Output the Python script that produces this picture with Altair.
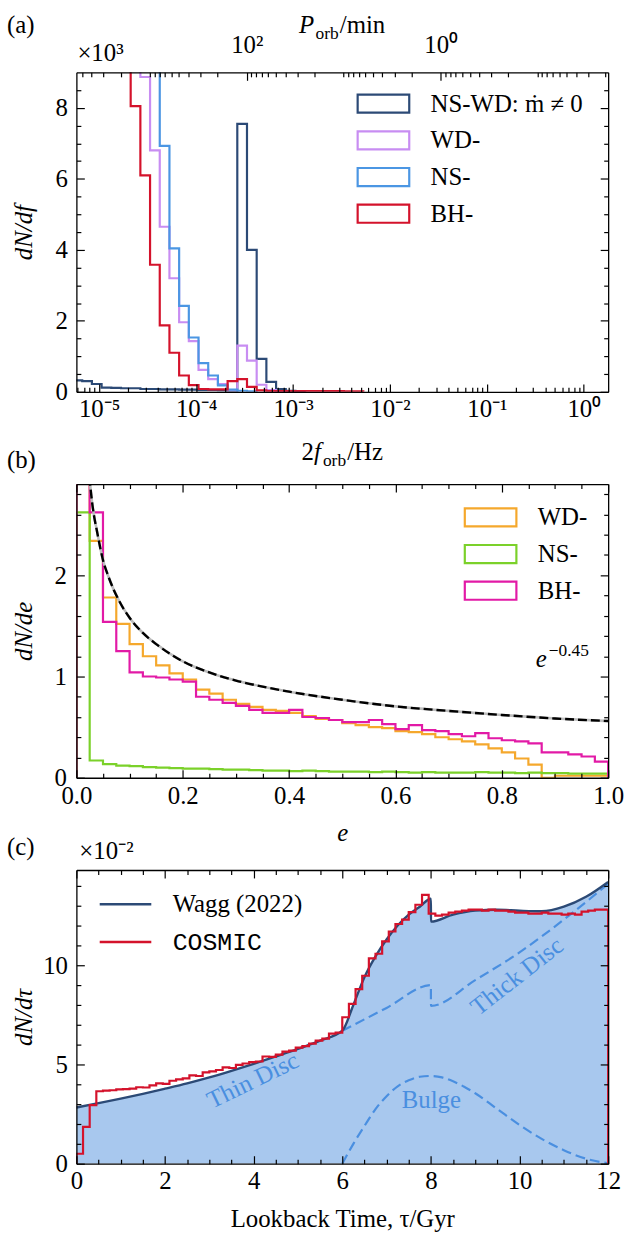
import altair as alt
import pandas as pd

SERIF = "Liberation Serif"
MONO = "Liberation Mono"
FS = 25
SUB = 17.5
W = 536
HA, HB, HC = 322, 296, 296
TMAJ, TMIN = 8, 4.5

# ---------------- Panel (a) data ----------------
A_NAMES = ["NS-WD: ṁ ≠ 0", "WD-", "NS-", "BH-"]
A_COLORS = ["#2c4a76", "#c88df2", "#4b96e3", "#d4122b"]
A_LOGF_RANGE = [-5.235, 0.251]
A_LOG_EDGE0 = -5.275
A_LOG_BIN = 0.1
A_YMAX = 9.0
a_nswd = [0.32, 0.30, 0.22, 0.12, 0.11, 0.10, 0.10, 0.08, 0.08, 0.07, 0.07, 0.06,
          0.06, 0.05, 0.05, 0.04, 0.03, 7.55, 4.00, 0.93, 0.28, 0.08, 0.03, 0.01]
a_wd = [10, 10, 10, 10, 10, 10, 10, 8.87, 6.80, 4.65, 3.20, 1.96, 1.43, 0.62, 0.36,
        0.22, 0.05, 1.30, 0.88, 0.20, 0.05, 0.02]
a_ns = [10, 10, 10, 10, 10, 10, 10, 10, 10, 6.93, 4.04, 2.42, 1.53, 0.81, 0.46, 0.18,
        0.06, 0.03, 0.01]
a_bh = [10, 10, 10, 10, 10, 10, 8.05, 6.10, 3.58, 1.87, 1.10, 0.46, 0.19, 0.08, 0.07,
        0.07, 0.30, 0.36, 0.14, 0.04, 0.02, 0.02, 0.02, 0.02, 0.02, 0.02, 0.02, 0.02,
        0.01, 0.01]

# ---------------- Panel (b) data ----------------
B_NAMES = ["WD-", "NS-", "BH-"]
B_COLORS = ["#f5a82c", "#7bd12a", "#e21aa6"]
B_BIN = 0.025
B_YMAX = 2.9
b_wd = [3.2, 2.34, 1.78, 1.52, 1.32, 1.20, 1.11, 1.03, 0.97, 0.87, 0.83, 0.77, 0.73,
        0.70, 0.67, 0.66, 0.64, 0.61, 0.58, 0.57, 0.54, 0.52, 0.50, 0.49, 0.46, 0.45,
        0.43, 0.40, 0.38, 0.36, 0.33, 0.29, 0.25, 0.19, 0.13, 0.0, 0.02, 0.02, 0.02, 0.02]
b_ns = [2.62, 0.17, 0.135, 0.12, 0.115, 0.105, 0.10, 0.095, 0.09, 0.09, 0.085, 0.08,
        0.08, 0.075, 0.07, 0.07, 0.065, 0.07, 0.065, 0.06, 0.06, 0.06, 0.055, 0.06,
        0.055, 0.05, 0.055, 0.05, 0.05, 0.05, 0.055, 0.05, 0.05, 0.045, 0.05, 0.045,
        0.045, 0.04, 0.04, 0.04]
b_bh = [3.2, 2.62, 1.54, 1.25, 1.04, 1.00, 0.99, 0.97, 0.95, 0.80, 0.77, 0.74, 0.71,
        0.67, 0.64, 0.64, 0.67, 0.60, 0.59, 0.57, 0.55, 0.55, 0.57, 0.53, 0.48, 0.52,
        0.47, 0.46, 0.43, 0.41, 0.44, 0.39, 0.37, 0.36, 0.34, 0.25, 0.25, 0.23, 0.21, 0.16]
b_curve_e = [0.022, 0.03, 0.04, 0.05, 0.06, 0.08, 0.10, 0.125, 0.15, 0.20, 0.25, 0.30,
             0.35, 0.40, 0.50, 0.60, 0.70, 0.80, 0.90, 1.00]
b_curve_v = [3.10, 2.70, 2.40, 2.15, 1.99, 1.75, 1.58, 1.43, 1.32, 1.15, 1.04, 0.96,
             0.90, 0.85, 0.77, 0.705, 0.66, 0.62, 0.585, 0.56]

# ---------------- Panel (c) data ----------------
C_NAMES = ["Wagg (2022)", "COSMIC"]
C_COLORS = ["#2c4a76", "#d4122b"]
C_FILL = "#a8c8ee"
C_DASH = "#4a8fe0"
C_BIN = 0.15
C_YMAX = 14.8
c_cosmic = [0.5, 1.85, 2.95, 3.65, 3.68, 3.70, 3.74, 3.76, 3.78, 3.85, 3.84, 3.95, 4.05,
            4.02, 4.18, 4.25, 4.30, 4.45, 4.42, 4.60, 4.65, 4.72, 4.85, 4.82, 4.98, 5.05,
            5.12, 5.15, 5.40, 5.38, 5.50, 5.65, 5.70, 5.85, 5.92, 6.05, 6.20, 6.30, 6.55,
            6.60, 7.38, 8.05, 8.80, 9.47, 10.35, 10.58, 11.20, 11.70, 12.08, 12.30, 12.68,
            13.05, 13.55, 12.60, 12.50, 12.55, 12.65, 12.70, 12.75, 12.80, 12.80, 12.75,
            12.80, 12.75, 12.75, 12.70, 12.65, 12.65, 12.60, 12.60, 12.65, 12.60, 12.60,
            12.55, 12.60, 12.55, 12.70, 12.75, 12.80, 12.80]
c_wagg_t = [0, 0.5, 1.0, 1.5, 2.0, 2.5, 3.0, 3.5, 4.0, 4.5, 5.0, 5.5, 6.0, 6.25, 6.5,
            6.75, 7.0, 7.25, 7.5, 7.75, 8.0, 8.001, 8.5, 9.0, 9.5, 10.0, 10.5, 11.0,
            11.5, 12.0]
c_wagg_v = [2.83, 3.05, 3.28, 3.52, 3.78, 4.05, 4.35, 4.68, 5.03, 5.40, 5.78, 6.20,
            6.70, 8.00, 9.40, 10.45, 11.30, 12.00, 12.55, 12.95, 13.35, 12.20, 12.55,
            12.75, 12.80, 12.75, 12.72, 12.95, 13.45, 14.20]
c_thick_t = [6.0, 7.0, 8.0, 8.001, 9.0, 10.0, 11.0, 12.0]
c_thick_v = [6.7, 7.85, 9.0, 7.95, 9.25, 10.65, 12.3, 14.1]
c_bulge_t = [6.0, 6.25, 6.5, 6.75, 7.0, 7.25, 7.5, 7.75, 8.0, 8.25, 8.5, 8.75, 9.0,
             9.5, 10.0, 10.5, 11.0, 11.5, 12.0]
c_bulge_v = [0.0, 1.0, 1.9, 2.75, 3.4, 3.9, 4.2, 4.38, 4.42, 4.35, 4.15, 3.88, 3.55,
             2.75, 1.95, 1.25, 0.68, 0.25, 0.02]
c_ann_text = ["Thin Disc", "Thick Disc", "Bulge"]
c_ann_t = [3.98, 9.94, 8.01]
c_ann_v = [4.2, 9.45, 3.2]
c_ann_angle = [334, 322, 0]


# ---------------- helpers ----------------
def sup(s):
    return s.translate(str.maketrans("-0123456789", "⁻⁰¹²³⁴⁵⁶⁷⁸⁹"))


def pow10_expr(exps):
    expr = "''"
    for e in exps:
        expr = f"round(log(datum.value)/LN10) == {e} ? '10{sup(str(e))}' : ({expr})"
    return expr


def step_rows(edges, vals, name, xkey):
    n = len(vals)
    xs = [edges[0]] + [edges[i] for i in range(n)] + [edges[n], edges[n]]
    ys = [0.0] + list(vals) + [vals[-1], 0.0]
    return pd.DataFrame({xkey: xs, "y": ys, "i": list(range(len(xs))), "s": name})


def base_axis(orient, **kw):
    d = dict(orient=orient, grid=False, domain=False, ticks=False, labels=False,
             title=None, zindex=1, tickSize=0)
    d.update(kw)
    return alt.Axis(**d)


def domain_axis(orient, **kw):
    return base_axis(orient, domain=True, domainColor="black", domainWidth=1.3, **kw)


def tick_axis(orient, values, size):
    return base_axis(orient, ticks=True, tickSize=size, tickWidth=1.2,
                     tickColor="black", values=values, offset=-size)


def label_kw(values, pad, expr=None, fmt=None):
    d = dict(labels=True, values=values, labelFont=SERIF, labelFontSize=FS,
             labelColor="black", labelPadding=pad, labelFlush=False,
             labelOverlap=False, labelBound=False, labelAngle=0)
    if expr:
        d["labelExpr"] = expr
    if fmt:
        d["format"] = fmt
    return d


def xtitle_kw(text, italic):
    return dict(title=text, titleFont=SERIF, titleFontSize=FS,
                titleFontStyle="italic" if italic else "normal", titleFontWeight="normal",
                titleColor="black", titleX=W / 2, titleY=63, titleBaseline="alphabetic",
                titleAlign="center", titleAngle=0)


def ytitle_kw(text, h):
    return dict(title=text, titleFont=SERIF, titleFontSize=FS, titleFontStyle="italic",
                titleFontWeight="normal", titleColor="black", titleX=-53, titleY=h / 2,
                titleBaseline="middle", titleAlign="center", titleAngle=270)


def frame_layers(df, xspecs, yspecs):
    out = []
    for (xf, xs, xa), (yf, ys, ya) in zip(xspecs, yspecs):
        out.append(alt.Chart(df).mark_point(opacity=0, size=1).encode(
            x=alt.X(f"{xf}:Q", scale=xs, axis=xa),
            y=alt.Y(f"{yf}:Q", scale=ys, axis=ya)))
    return out


def hist_layer(df, xkey, xs, ys, names, colors, legend):
    return alt.Chart(df).mark_line(interpolate="step-after", clip=True, strokeWidth=2.2).encode(
        x=alt.X(f"{xkey}:Q", scale=xs, axis=None),
        y=alt.Y("y:Q", scale=ys, axis=None),
        color=alt.Color("s:N", scale=alt.Scale(domain=names, range=colors), legend=legend),
        order=alt.Order("i:Q"))


def px_text(text, x, y, size=FS, align="left", baseline="middle", italic=False, dy=0):
    return alt.Chart(pd.DataFrame({"t": [text]})).mark_text(
        align=align, baseline=baseline, font=SERIF, fontSize=size,
        fontStyle="italic" if italic else "normal", color="black", dy=dy
    ).encode(x=alt.value(x), y=alt.value(y), text="t:N")


def rich_text(parts, x0, y):
    out, x = [], x0
    for text, size, italic, dy, adv in parts:
        out.append(px_text(text, x, y, size=size, baseline="alphabetic", italic=italic, dy=dy))
        x += adv
    return out


# legend symbols: half-size 13 px, shape drawn 52 px wide
RECT = "M-2,-0.7H2V0.7H-2Z"
HLINE = "M-2,0H2"
SYM_SIZE = 676


def rect_legend(x, y):
    return alt.Legend(title=None, orient="none", legendX=x, legendY=y, symbolType=RECT,
                      symbolSize=SYM_SIZE, symbolStrokeWidth=2.2, symbolFillColor="transparent",
                      labelFont=SERIF, labelFontSize=FS, labelColor="black", labelOffset=33,
                      rowPadding=9, padding=0, labelLimit=400)


# ---------------- Panel (a) ----------------
fmin, fmax = 10 ** A_LOGF_RANGE[0], 10 ** A_LOGF_RANGE[1]
Pmax, Pmin = 1 / (30 * fmin), 1 / (30 * fmax)
xsA = alt.Scale(type="log", domain=[fmin, fmax], nice=False)
psA = alt.Scale(type="log", domain=[Pmin, Pmax], nice=False, reverse=True)
ysA = alt.Scale(domain=[0, A_YMAX], nice=False, zero=False)
dfA_frame = pd.DataFrame({"f": [fmin, fmax], "P": [Pmax, Pmin], "y": [0, A_YMAX]})

f_major = [10.0 ** k for k in range(-5, 1)]
f_minor = [m * 10.0 ** k for k in range(-6, 1) for m in range(2, 10)
           if fmin <= m * 10.0 ** k <= fmax]
p_major = [1.0, 100.0]
p_minor = [m * 10.0 ** k for k in range(-2, 4) for m in range(1, 10)
           if Pmin <= m * 10.0 ** k <= Pmax and not (m == 1 and k in (0, 2))]
ya_major = [0, 2, 4, 6, 8]
ya_minor = [0.5 * k for k in range(1, 18) if k % 4 != 0]

a_edges = [10 ** (A_LOG_EDGE0 + A_LOG_BIN * k) for k in range(40)]
legA = rect_legend(295, 17)
a_layers = [hist_layer(step_rows(a_edges, vals, nm, "f"), "f", xsA, ysA, A_NAMES, A_COLORS, legA)
            for vals, nm in zip([a_nswd, a_wd, a_ns, a_bh], A_NAMES)]

a_frame = frame_layers(
    dfA_frame,
    [("f", xsA, domain_axis("bottom", **label_kw(f_major, 5, expr=pow10_expr(range(-5, 1))))),
     ("f", xsA, tick_axis("bottom", f_major, TMAJ)),
     ("f", xsA, tick_axis("bottom", f_minor, TMIN)),
     ("P", psA, domain_axis("top", **label_kw(p_major, 15, expr=pow10_expr([0, 2])))),
     ("P", psA, tick_axis("top", p_major, TMAJ)),
     ("P", psA, tick_axis("top", p_minor, TMIN))],
    [("y", ysA, domain_axis("left", **label_kw(ya_major, 9, fmt="d"), **ytitle_kw("dN/df", HA))),
     ("y", ysA, tick_axis("left", ya_major, TMAJ)),
     ("y", ysA, tick_axis("left", ya_minor, TMIN)),
     ("y", ysA, domain_axis("right")),
     ("y", ysA, tick_axis("right", ya_major, TMAJ)),
     ("y", ysA, tick_axis("right", ya_minor, TMIN))])

a_text = [px_text("(a)", -70, -48), px_text("×10³", 1, -19)]
a_text += rich_text([("P", FS, True, 0, 16.5), ("orb", SUB, False, 6, 24.5),
                     ("/min", FS, False, 0, 46)], W / 2 - 43.5, -40)
a_text += rich_text([("2", FS, False, 0, 12.5), ("f", FS, True, 0, 9),
                     ("orb", SUB, False, 6, 24.5), ("/Hz", FS, False, 0, 36)], W / 2 - 41, HA + 69)

pa = alt.layer(*a_layers, *a_frame, *a_text).properties(width=W, height=HA).resolve_scale(
    x="independent", y="independent")

# ---------------- Panel (b) ----------------
xsB = alt.Scale(domain=[0, 1], nice=False, zero=False)
ysB = alt.Scale(domain=[0, B_YMAX], nice=False, zero=False)
dfB_frame = pd.DataFrame({"e": [0, 1], "y": [0, B_YMAX]})
xb_major = [0.2 * k for k in range(6)]
xb_minor = [0.05 * k for k in range(1, 20) if k % 4 != 0]
yb_major = [0, 1, 2]
yb_minor = [0.2 * k for k in range(1, 15) if k % 5 != 0]
b_edges = [B_BIN * k for k in range(41)]
legB = rect_legend(403, 19)
b_layers = [hist_layer(step_rows(b_edges, vals, nm, "e"), "e", xsB, ysB, B_NAMES, B_COLORS, legB)
            for vals, nm in zip([b_wd, b_ns, b_bh], B_NAMES)]
df_curve = pd.DataFrame({"e": b_curve_e, "y": b_curve_v})
b_curve = [
    alt.Chart(df_curve).mark_line(color="#bdbdbd", strokeWidth=2.6, clip=True,
                                  interpolate="monotone").encode(
        x=alt.X("e:Q", scale=xsB, axis=None), y=alt.Y("y:Q", scale=ysB, axis=None)),
    alt.Chart(df_curve).mark_line(color="black", strokeWidth=2.4, clip=True, strokeDash=[9, 4],
                                  interpolate="monotone").encode(
        x=alt.X("e:Q", scale=xsB, axis=None), y=alt.Y("y:Q", scale=ysB, axis=None)),
]
df_elab = pd.DataFrame({"e": [0.864], "y": [1.09]})
b_elab = [
    alt.Chart(df_elab.assign(t="e")).mark_text(align="left", baseline="alphabetic", font=SERIF,
                                               fontSize=FS, fontStyle="italic", color="black").encode(
        x=alt.X("e:Q", scale=xsB, axis=None), y=alt.Y("y:Q", scale=ysB, axis=None), text="t:N"),
    alt.Chart(df_elab.assign(t="−0.45")).mark_text(align="left", baseline="alphabetic", font=SERIF,
                                                   fontSize=SUB, color="black", dx=13, dy=-11).encode(
        x=alt.X("e:Q", scale=xsB, axis=None), y=alt.Y("y:Q", scale=ysB, axis=None), text="t:N"),
]
b_frame = frame_layers(
    dfB_frame,
    [("e", xsB, domain_axis("bottom", **label_kw(xb_major, 6, fmt=".1f"), **xtitle_kw("e", True))),
     ("e", xsB, tick_axis("bottom", xb_major, TMAJ)),
     ("e", xsB, tick_axis("bottom", xb_minor, TMIN)),
     ("e", xsB, domain_axis("top")),
     ("e", xsB, tick_axis("top", xb_major, TMAJ)),
     ("e", xsB, tick_axis("top", xb_minor, TMIN))],
    [("y", ysB, domain_axis("left", **label_kw(yb_major, 10, fmt="d"), **ytitle_kw("dN/de", HB))),
     ("y", ysB, tick_axis("left", yb_major, TMAJ)),
     ("y", ysB, tick_axis("left", yb_minor, TMIN)),
     ("y", ysB, domain_axis("right")),
     ("y", ysB, tick_axis("right", yb_major, TMAJ)),
     ("y", ysB, tick_axis("right", yb_minor, TMIN))])
b_text = [px_text("(b)", -70, -24)]
pb = alt.layer(*b_layers, *b_curve, *b_elab, *b_frame, *b_text).properties(
    width=W, height=HB).resolve_scale(x="independent", y="independent")

# ---------------- Panel (c) ----------------
xsC = alt.Scale(domain=[0, 12], nice=False, zero=False)
ysC = alt.Scale(domain=[0, C_YMAX], nice=False, zero=False)
dfC_frame = pd.DataFrame({"tau": [0, 12], "y": [0, C_YMAX]})
xc_major = [0, 2, 4, 6, 8, 10, 12]
xc_minor = [0.5 * k for k in range(1, 24) if k % 4 != 0]
yc_major = [0, 5, 10]
yc_minor = [k for k in range(1, 15) if k % 5 != 0]

df_wagg = pd.DataFrame({"tau": c_wagg_t, "y": c_wagg_v, "s": C_NAMES[0],
                        "i": list(range(len(c_wagg_t)))})
df_thick = pd.DataFrame({"tau": c_thick_t, "y": c_thick_v})
df_bulge = pd.DataFrame({"tau": c_bulge_t, "y": c_bulge_v})
c_edges = [C_BIN * k for k in range(81)]
legC = alt.Legend(title=None, orient="none", legendX=35, legendY=20, symbolType=HLINE,
                  symbolSize=SYM_SIZE, symbolStrokeWidth=2.4, symbolFillColor="transparent",
                  labelFontSize=FS, labelColor="black",
                  labelFont=alt.ExprRef(expr="datum.label == 'COSMIC' ? 'Liberation Mono' : 'Liberation Serif'"),
                  labelOffset=33, rowPadding=10, padding=0, labelLimit=400)
c_color = alt.Color("s:N", scale=alt.Scale(domain=C_NAMES, range=C_COLORS), legend=legC)


def cx():
    return alt.X("tau:Q", scale=xsC, axis=None)


def cy(stack=False):
    if stack:
        return alt.Y("y:Q", scale=ysC, axis=None, stack=None)
    return alt.Y("y:Q", scale=ysC, axis=None)


c_layers = [
    alt.Chart(df_wagg).mark_area(color=C_FILL, fill=C_FILL, opacity=1, interpolate="monotone",
                                 clip=True).encode(x=cx(), y=cy(True)),
    alt.Chart(df_thick).mark_line(color=C_DASH, strokeWidth=2.2, strokeDash=[10, 5],
                                  interpolate="monotone", clip=True).encode(x=cx(), y=cy()),
    alt.Chart(df_bulge).mark_line(color=C_DASH, strokeWidth=2.2, strokeDash=[10, 5],
                                  interpolate="monotone", clip=True).encode(x=cx(), y=cy()),
]
for t, tt, vv, ang in zip(c_ann_text, c_ann_t, c_ann_v, c_ann_angle):
    c_layers.append(alt.Chart(pd.DataFrame({"tau": [tt], "y": [vv], "t": [t]})).mark_text(
        align="center", baseline="middle", font=SERIF, fontSize=FS, color=C_DASH, angle=ang
    ).encode(x=cx(), y=cy(), text="t:N"))
c_layers.append(alt.Chart(df_wagg).mark_line(strokeWidth=2.4, interpolate="monotone", clip=True).encode(
    x=cx(), y=cy(), color=c_color, order=alt.Order("i:Q")))
c_layers.append(alt.Chart(step_rows(c_edges, c_cosmic, C_NAMES[1], "tau")).mark_line(
    interpolate="step-after", strokeWidth=2.2, clip=True).encode(
    x=cx(), y=cy(), color=c_color, order=alt.Order("i:Q")))

c_frame = frame_layers(
    dfC_frame,
    [("tau", xsC, domain_axis("bottom", **label_kw(xc_major, 5, fmt="d"),
                              **xtitle_kw("Lookback Time, τ/Gyr", False))),
     ("tau", xsC, tick_axis("bottom", xc_major, TMAJ)),
     ("tau", xsC, tick_axis("bottom", xc_minor, TMIN)),
     ("tau", xsC, domain_axis("top")),
     ("tau", xsC, tick_axis("top", xc_major, TMAJ)),
     ("tau", xsC, tick_axis("top", xc_minor, TMIN))],
    [("y", ysC, domain_axis("left", **label_kw(yc_major, 9, fmt="d"), **ytitle_kw("dN/dτ", HC))),
     ("y", ysC, tick_axis("left", yc_major, TMAJ)),
     ("y", ysC, tick_axis("left", yc_minor, TMIN)),
     ("y", ysC, domain_axis("right")),
     ("y", ysC, tick_axis("right", yc_major, TMAJ)),
     ("y", ysC, tick_axis("right", yc_minor, TMIN))])
c_text = [px_text("(c)", -70, -23), px_text("×10⁻²", 3, -19)]
pc = alt.layer(*c_layers, *c_frame, *c_text).properties(width=W, height=HC).resolve_scale(
    x="independent", y="independent")

chart = alt.vconcat(pa, pb, pc, spacing=93, bounds="flush").resolve_scale(
    color="independent").properties(
    padding={"left": 7, "top": 8, "right": 4, "bottom": 4}
).configure(font=SERIF).configure_view(stroke=None)

chart.save("out.html", embed_options={"renderer": "svg", "actions": False})
